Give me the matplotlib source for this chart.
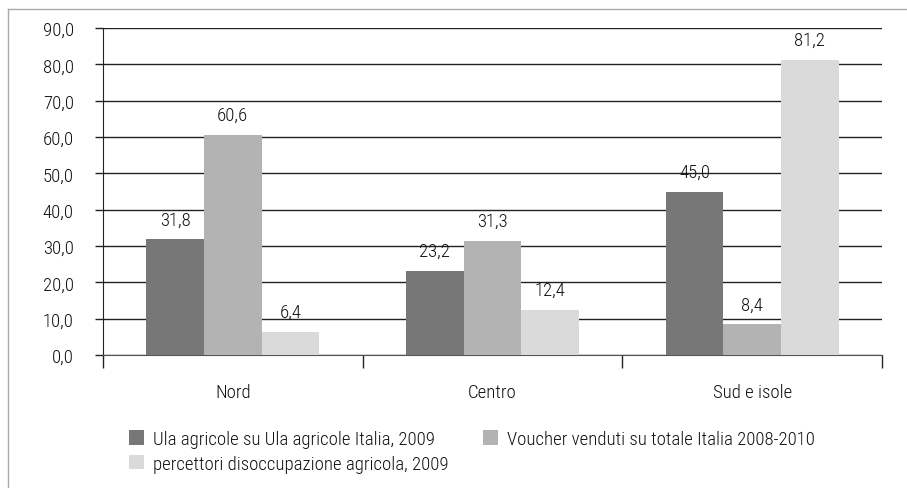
import numpy as np
import matplotlib.pyplot as plt
from matplotlib.lines import Line2D
from matplotlib import font_manager

# dati
categorie = ["Nord", "Centro", "Sud e isole"]
ula = [31.8, 23.2, 45.0]
voucher = [60.6, 31.3, 8.4]
disocc = [6.4, 12.4, 81.2]
serie_nomi = ["Ula agricole su Ula agricole Italia, 2009",
              "Voucher venduti su totale Italia 2008-2010",
              "percettori disoccupazione agricola, 2009"]
yticks = [0, 10, 20, 30, 40, 50, 60, 70, 80, 90]

colori = ["#767776", "#b2b3b2", "#d9dad9"]

# font stretto, se disponibile
nomi_font = {f.name for f in font_manager.fontManager.ttflist}
famiglie = [f for f in ["Roboto Condensed", "Encode Sans Condensed",
                        "Archivo Narrow", "Fira Sans Condensed"] if f in nomi_font]
plt.rcParams["font.family"] = famiglie[:1] + ["DejaVu Sans"]
plt.rcParams["font.weight"] = "light"
fs = 13.5
testo = "#111111"

fig = plt.figure(figsize=(9.07, 4.89), dpi=100)
ax = fig.add_axes([103 / 907, 1 - 356 / 489, 779 / 907, 327 / 489])

x = np.arange(len(categorie))
w = 0.222
for i, vals in enumerate([ula, voucher, disocc]):
    pos = x + (i - 1) * w
    bars = ax.bar(pos, vals, w, color=colori[i], label=serie_nomi[i], zorder=3)
    for b, v in zip(bars, vals):
        ax.annotate(f"{v:.1f}".replace(".", ","),
                    (b.get_x() + b.get_width() / 2, v),
                    xytext=(0, 8), textcoords="offset points",
                    ha="center", va="bottom", fontsize=fs, color=testo)

ax.set_xlim(-0.5, 2.5)
ax.set_ylim(0, 90)
ax.set_yticks(yticks)
ax.set_yticklabels([f"{t:.1f}".replace(".", ",") for t in yticks])
ax.yaxis.grid(True, color="#222222", linewidth=1.0, zorder=0)
ax.set_axisbelow(True)

ax.set_xticks(x)
ax.set_xticklabels(categorie)
ax.tick_params(axis="x", which="major", length=0, pad=20)
ax.set_xticks([-0.5, 0.5, 1.5, 2.5], minor=True)
ax.tick_params(axis="x", which="minor", length=9, width=1, color="#222222")
ax.tick_params(axis="y", length=6, width=1, color="#222222", pad=15)
ax.tick_params(labelcolor=testo, labelsize=fs)

for s in ["top", "right"]:
    ax.spines[s].set_visible(False)
ax.spines["left"].set_color("#222222")
ax.spines["bottom"].set_color("#555555")

h, l = ax.get_legend_handles_labels()
order = [0, 2, 1]
leg = fig.legend([h[i] for i in order], [l[i] for i in order],
                 loc="upper left", bbox_to_anchor=(129 / 907, 1 - 431 / 489),
                 ncol=2, frameon=False, handlelength=0.8, handleheight=0.8,
                 handletextpad=0.5, columnspacing=1.8, labelspacing=0.36,
                 fontsize=fs, borderaxespad=0, borderpad=0)
for t in leg.get_texts():
    t.set_color(testo)

# cornice
fig.add_artist(Line2D([8 / 907, 1], [1 - 10 / 489, 1 - 10 / 489],
                      transform=fig.transFigure, color="#aaaaaa", linewidth=1))
fig.add_artist(Line2D([8 / 907, 8 / 907], [0, 1 - 10 / 489],
                      transform=fig.transFigure, color="#aaaaaa", linewidth=1))

fig.savefig("out.png", dpi=100)
